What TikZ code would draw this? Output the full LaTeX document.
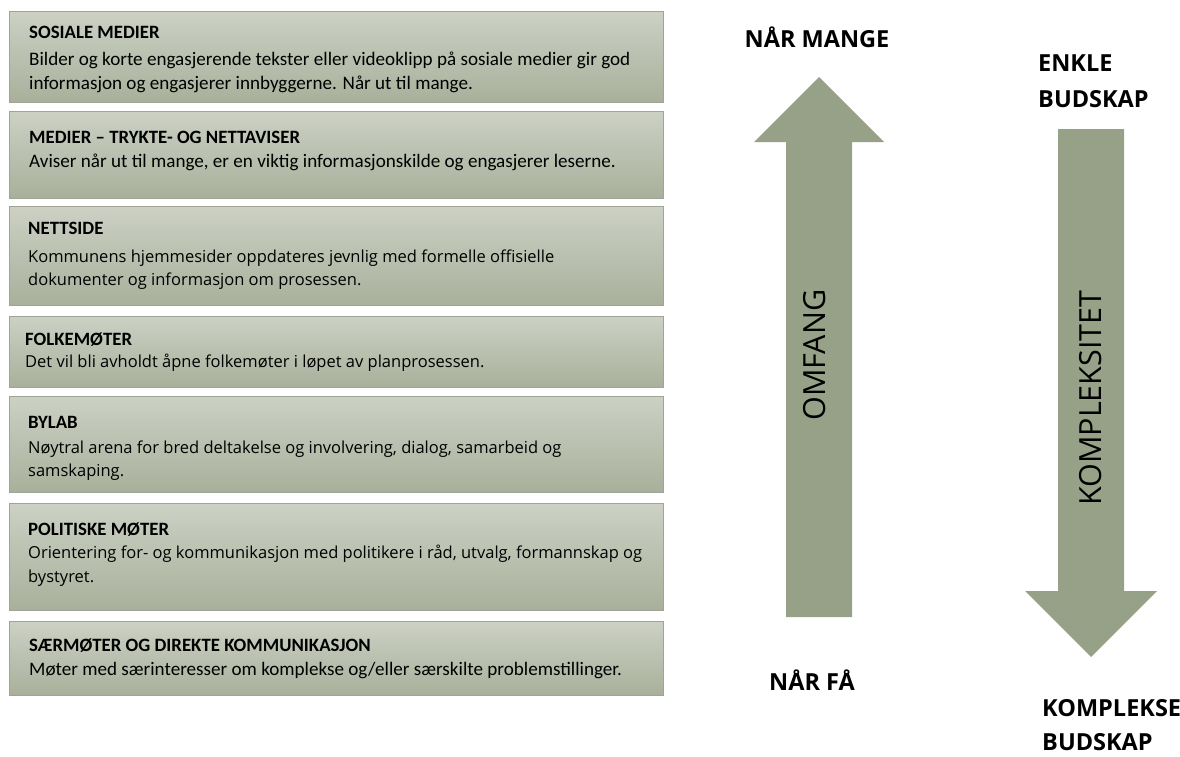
\documentclass[tikz,border=0pt]{standalone}
\usepackage{fontspec}
\setmainfont{Carlito}
\newfontfamily\osans{Open Sans}
\definecolor{boxtop}{RGB}{204,209,196}
\definecolor{boxbot}{RGB}{168,176,155}
\definecolor{boxline}{RGB}{158,164,150}
\definecolor{pilgronn}{RGB}{151,161,135}
\tikzset{
  infobox/.style={draw=boxline,line width=0.9pt,top color=boxtop,bottom color=boxbot,
    anchor=north west,minimum width=654pt,inner sep=0pt},
  boxhead/.style={anchor=base west,inner sep=0pt,font=\fontsize{18.8}{22}\selectfont\bfseries},
  calbody/.style={anchor=base west,inner sep=0pt,font=\fontsize{19.1}{22}\selectfont},
  osbody/.style={anchor=base west,inner sep=0pt,font=\osans\fontsize{16.5}{20}\selectfont},
  sidelabel/.style={inner sep=0pt,font=\osans\fontsize{23.5}{28}\selectfont\bfseries},
  pillabel/.style={inner sep=0pt,rotate=90,font=\osans\fontsize{30.5}{36}\selectfont}
}

\begin{document}
\begin{tikzpicture}[x=1pt,y=-1pt]
\useasboundingbox (0,0) rectangle (1180,756);
% bokser
\node[infobox,minimum height=91pt] (sosiale) at (9,11) {};
\node[infobox,minimum height=87pt] (medier) at (9,111) {};
\node[infobox,minimum height=99pt] (nettside) at (9,206) {};
\node[infobox,minimum height=71pt] (folkemote) at (9,316) {};
\node[infobox,minimum height=96pt] (bylab) at (9,396) {};
\node[infobox,minimum height=107pt] (politisk) at (9,503) {};
\node[infobox,minimum height=74pt] (saermote) at (9,621) {};
% tekst i boksene
\node[boxhead] (sosialeH) at (29,38) {SOSIALE MEDIER};
\node[calbody] (sosialeA) at (29,65) {Bilder og korte engasjerende tekster eller videoklipp på sosiale medier gir god};
\node[calbody] (sosialeB) at (29,89) {informasjon og engasjerer innbyggerne. Når ut til mange.};
\node[boxhead] (medierH) at (29,143) {MEDIER – TRYKTE- OG NETTAVISER};
\node[calbody] (medierA) at (29,167) {Aviser når ut til mange, er en viktig informasjonskilde og engasjerer leserne.};
\node[boxhead] (nettsideH) at (28,234) {NETTSIDE};
\node[osbody] (nettsideA) at (28,262) {Kommunens hjemmesider oppdateres jevnlig med formelle offisielle};
\node[osbody] (nettsideB) at (28,285) {dokumenter og informasjon om prosessen.};
\node[boxhead] (folkemoteH) at (25,345) {FOLKEMØTER};
\node[osbody] (folkemoteA) at (25,367) {Det vil bli avholdt åpne folkemøter i løpet av planprosessen.};
\node[boxhead] (bylabH) at (28,428) {BYLAB};
\node[osbody] (bylabA) at (28,453) {Nøytral arena for bred deltakelse og involvering, dialog, samarbeid og};
\node[osbody] (bylabB) at (28,476) {samskaping.};
\node[boxhead] (politiskH) at (28,535) {POLITISKE MØTER};
\node[osbody] (politiskA) at (28,558) {Orientering for- og kommunikasjon med politikere i råd, utvalg, formannskap og};
\node[osbody] (politiskB) at (28,582) {bystyret.};
\node[boxhead] (saermoteH) at (29,651) {SÆRMØTER OG DIREKTE KOMMUNIKASJON};
\node[calbody] (saermoteA) at (29,675) {Møter med særinteresser om komplekse og/eller særskilte problemstillinger.};
% piler
\fill[pilgronn] (819,77) -- (884,142) -- (852,142) -- (852,617) -- (786,617) -- (786,142) -- (754,142) -- cycle;
\fill[pilgronn] (1058,129) -- (1124,129) -- (1124,591) -- (1157,591) -- (1091,657) -- (1025,591) -- (1058,591) -- cycle;
\node[pillabel] (omfang) at (815,355) {OMFANG};
\node[pillabel] (kompleks) at (1091,398) {KOMPLEKSITET};
% etiketter
\node[sidelabel,anchor=base] (mange) at (817,47) {NÅR MANGE};
\node[sidelabel,anchor=base] (faa) at (812,690) {NÅR FÅ};
\node[sidelabel,anchor=base west] (enkle) at (1038,71) {ENKLE};
\node[sidelabel,anchor=base west] (enkleB) at (1038,107) {BUDSKAP};
\node[sidelabel,anchor=base west] (komplekse) at (1042,716) {KOMPLEKSE};
\node[sidelabel,anchor=base west] (kompleksB) at (1042,750) {BUDSKAP};
\end{tikzpicture}
\end{document}
